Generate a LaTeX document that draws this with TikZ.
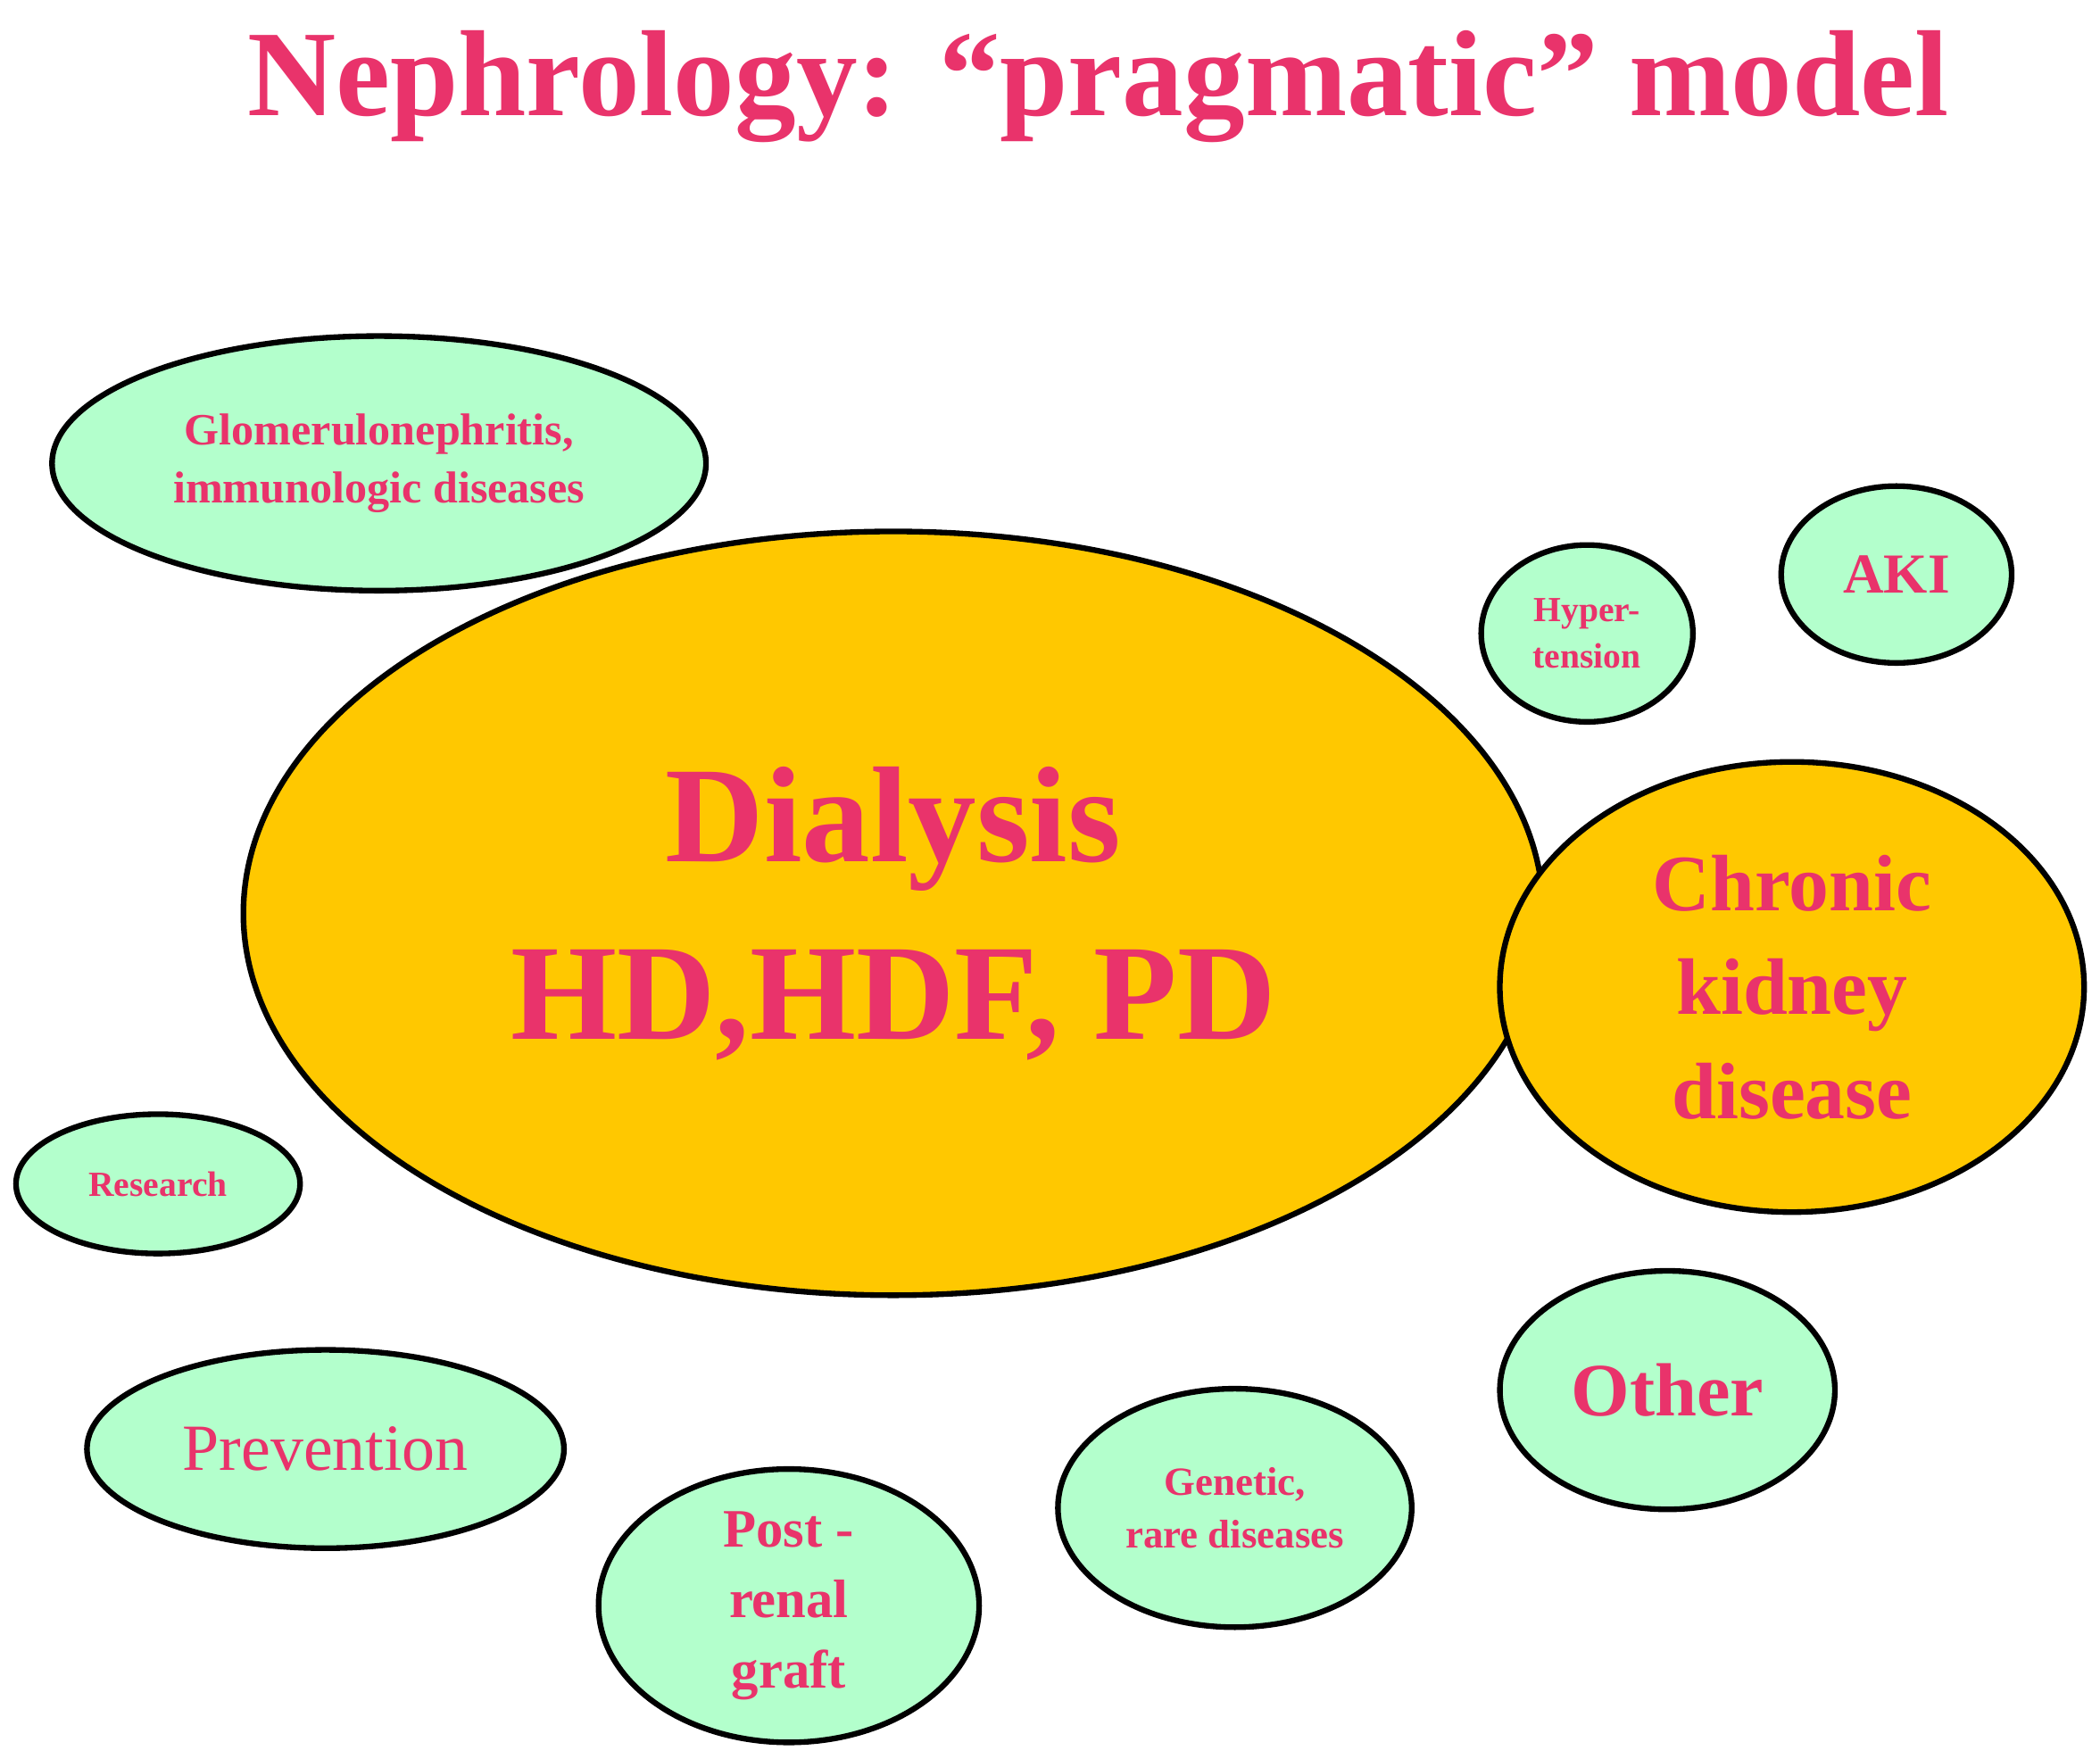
\documentclass[tikz,border=0pt]{standalone}
\usepackage{fontspec}
\setmainfont{Liberation Serif}
\usetikzlibrary{shapes.geometric}
\definecolor{nephpink}{RGB}{233,51,107}
\definecolor{nephgreen}{RGB}{179,255,204}
\definecolor{nephgold}{RGB}{255,200,0}
\tikzset{
  blob/.style={ellipse, draw=black, line width=1.2pt, inner sep=0pt,
    text=nephpink, align=center, font=\bfseries},
  side/.style={blob, fill=nephgreen},
  core/.style={blob, fill=nephgold}
}
\newcommand{\sz}[1]{\fontsize{#1}{1.3\dimexpr#1\relax}\selectfont}
\begin{document}
\begin{tikzpicture}[x=0.01cm,y=-0.01cm]
  \useasboundingbox (0,0) rectangle (1568,1313);
  \node[text=nephpink, font=\bfseries\sz{26pt}] (title) at (820,65) {Nephrology: “pragmatic” model};
  % main bubbles
  \node[core, minimum width=9.7cm, minimum height=5.7cm, font=\bfseries\sz{29pt}] (dial) at (667,682) {Dialysis\\HD,HDF, PD};
  \node[core, minimum width=4.36cm, minimum height=3.36cm, font=\bfseries\sz{17pt}] (ckd) at (1338,737) {Chronic\\kidney\\disease};
  % satellites
  \node[side, minimum width=4.88cm, minimum height=1.9cm, font=\bfseries\sz{9.5pt}] (glom) at (283,346) {Glomerulonephritis,\\immunologic diseases};
  \node[side, minimum width=1.58cm, minimum height=1.32cm, font=\bfseries\sz{7.5pt}] (hyp) at (1185,473) {Hyper-\\tension};
  \node[side, minimum width=1.72cm, minimum height=1.32cm, font=\bfseries\sz{12pt}] (aki) at (1416,429) {AKI};
  \node[side, minimum width=2.12cm, minimum height=1.04cm, font=\bfseries\sz{7.5pt}] (res) at (118,884) {Research};
  \node[side, minimum width=3.56cm, minimum height=1.48cm, font=\sz{14pt}] (prev) at (243,1082) {Prevention};
  \node[side, minimum width=2.84cm, minimum height=2.04cm, font=\bfseries\sz{11.5pt}] (post) at (589,1199) {Post -\\renal\\graft};
  \node[side, minimum width=2.64cm, minimum height=1.78cm, font=\bfseries\sz{8.5pt}] (gen) at (922,1126) {Genetic,\\rare diseases};
  \node[side, minimum width=2.5cm, minimum height=1.78cm, font=\bfseries\sz{16pt}] (oth) at (1245,1038) {Other};
\end{tikzpicture}
\end{document}
